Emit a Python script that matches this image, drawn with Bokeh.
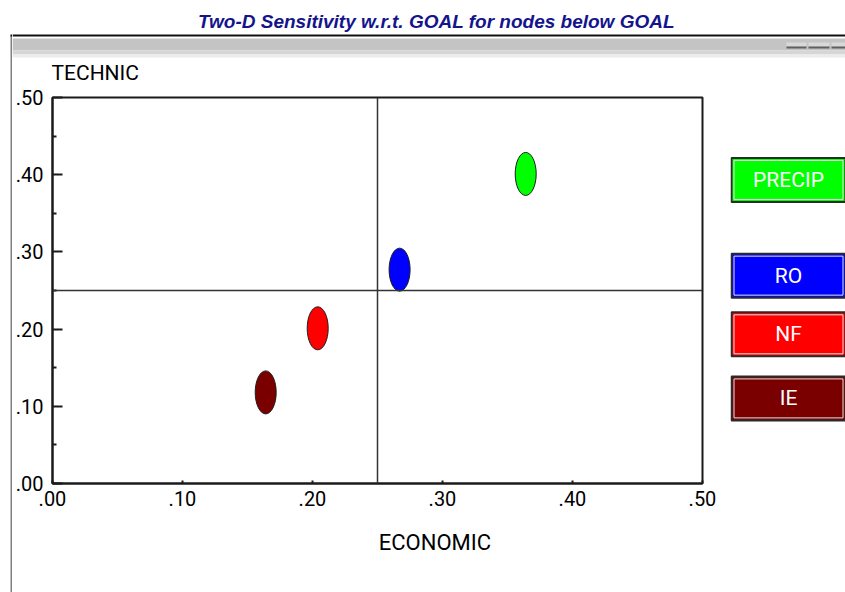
from bokeh.plotting import figure
from bokeh.layouts import column, row
from bokeh.models import (Range1d, FixedTicker, CustomJSTickFormatter, Span, ColumnDataSource)
from bokeh.core.properties import value
from bokeh.embed import file_html
from bokeh.resources import INLINE

# ---------------- data ----------------
TITLE = "Two-D Sensitivity w.r.t. GOAL for nodes below GOAL"
X_LABEL = "ECONOMIC"
Y_LABEL = "TECHNIC"
NODES = ["PRECIP", "RO", "NF", "IE"]
ECONOMIC = [0.364, 0.267, 0.204, 0.164]
TECHNIC = [0.401, 0.277, 0.201, 0.118]
COLORS = ["#00ff00", "#0000ff", "#ff0000", "#7a0000"]
SPLIT = 0.25
MAJOR_TICKS = [0.0, 0.1, 0.2, 0.3, 0.4, 0.5]
MINOR_TICKS = [0.05, 0.15, 0.25, 0.35, 0.45]
TICK_LABELS = [".00", ".10", ".20", ".30", ".40", ".50"]

# ---------------- layout (page pixels) ----------------
FONT = "Roboto"
PAGE_W, PAGE_H = 845, 592
HEAD_H = 85            # header height (title + window chrome + y-axis name)
STRIP_W = 12           # left window border strip
LEG_X = 730            # legend column start
MAIN_BOTTOM = 520      # main figure bottom edge
FL, FR, FT, FB = 51, 702, 97, 483   # plotting frame edges


def deco_fig(w, h, xr, yr, **kw):
    f = figure(width=w, height=h, output_backend="svg", toolbar_location=None,
               x_range=Range1d(*xr), y_range=Range1d(*yr),
               x_axis_type=None, y_axis_type=None,
               background_fill_color="white", border_fill_color="white", **kw)
    f.outline_line_color = None
    f.grid.visible = False
    return f


# ---------- left window border strip (full height) ----------
strip = deco_fig(STRIP_W, PAGE_H, (0, STRIP_W), (PAGE_H, 0), min_border=0)
strip.quad(left=[10], right=[STRIP_W], top=[35], bottom=[PAGE_H], fill_color="#808080", line_color=None)
strip.quad(left=[10], right=[STRIP_W], top=[34], bottom=[36], fill_color="#111111", line_color=None)

# ---------- header: title, window chrome, y-axis name ----------
head = deco_fig(PAGE_W - STRIP_W, HEAD_H, (STRIP_W, PAGE_W), (HEAD_H, 0), min_border=0)
head.text(x=[436], y=[21], text=[TITLE], text_align="center", text_baseline="alphabetic",
          text_font=value("Liberation Sans"), text_font_style="bold italic",
          text_font_size="19px", text_color="#14148c")
head.quad(left=[STRIP_W] * 3, right=[PAGE_W] * 3, top=[38, 50, 54], bottom=[50, 54, 57],
          fill_color=["#c4c4c4", "#d6d6d6", "#ececec"], line_color=None)
head.quad(left=[STRIP_W], right=[PAGE_W], top=[34], bottom=[36], fill_color="#111111", line_color=None)
head.quad(left=[786, 808, 831], right=[806, 829, PAGE_W], top=[42] * 3, bottom=[46] * 3,
          fill_color="#d8d8d8", line_color=None)
head.quad(left=[786, 808, 831], right=[806, 829, PAGE_W], top=[46] * 3, bottom=[48] * 3,
          fill_color="#606060", line_color=None)
head.text(x=[FL], y=[72], text=[Y_LABEL], text_align="left", text_baseline="alphabetic",
          text_font=value(FONT), text_font_size="21px", text_color="black")

# ---------- main scatter ----------
p = figure(width=LEG_X - STRIP_W, height=MAIN_BOTTOM - HEAD_H, output_backend="svg",
           toolbar_location=None, x_range=Range1d(0, 0.5), y_range=Range1d(0, 0.5),
           min_border_left=FL - STRIP_W, min_border_right=LEG_X - FR,
           min_border_top=FT - HEAD_H, min_border_bottom=MAIN_BOTTOM - FB,
           background_fill_color="white", border_fill_color="white")
p.grid.visible = False
p.outline_line_color = "#1a1a1a"
p.outline_line_width = 2

fmt = CustomJSTickFormatter(args=dict(tick_vals=MAJOR_TICKS, tick_text=TICK_LABELS), code="""
const i = tick_vals.findIndex(t => Math.abs(t - tick) < 1e-9);
return i < 0 ? '' : tick_text[i];
""")

for ax, tin, minor, standoff in ((p.xaxis[0], 3, 0, 7), (p.yaxis[0], 10, 4, 9)):
    ax.ticker = FixedTicker(ticks=MAJOR_TICKS, minor_ticks=MINOR_TICKS if minor else [])
    ax.formatter = fmt
    ax.axis_line_color = "#1a1a1a"
    ax.axis_line_width = 2
    ax.major_tick_in = tin
    ax.major_tick_out = 0
    ax.major_tick_line_color = "#1a1a1a"
    ax.major_tick_line_width = 2
    ax.minor_tick_in = minor
    ax.minor_tick_out = 0
    ax.minor_tick_line_color = "#1a1a1a"
    ax.minor_tick_line_width = 2
    ax.major_label_text_font = FONT
    ax.major_label_text_font_size = "20px"
    ax.major_label_text_color = "black"
    ax.major_label_standoff = standoff

p.add_layout(Span(location=SPLIT, dimension="width", line_color="#333333", line_width=1.5))
p.add_layout(Span(location=SPLIT, dimension="height", line_color="#333333", line_width=1.5))

src = ColumnDataSource(dict(x=ECONOMIC, y=TECHNIC, color=COLORS, name=NODES))
p.ellipse(x="x", y="y", width=21, height=43, width_units="screen", height_units="screen",
          fill_color="color", line_color="#1e1e1e", line_width=1, source=src)

# ---------- footer: x-axis name (frame aligned with the main frame) ----------
foot = deco_fig(LEG_X - STRIP_W, PAGE_H - MAIN_BOTTOM, (FL, FR), (PAGE_H, MAIN_BOTTOM),
                min_border_left=FL - STRIP_W, min_border_right=LEG_X - FR,
                min_border_top=0, min_border_bottom=0)
foot.text(x=[434], y=[542], text=[X_LABEL], text_align="center", text_baseline="alphabetic",
          text_font=value(FONT), text_font_size="22px", text_color="black")

# ---------- legend buttons (share the TECHNIC scale) ----------
leg = figure(width=PAGE_W - LEG_X, height=PAGE_H - HEAD_H, output_backend="svg",
             toolbar_location=None, x_range=Range1d(LEG_X, PAGE_W), y_range=p.y_range,
             x_axis_type=None, y_axis_type=None,
             min_border_left=0, min_border_right=0,
             min_border_top=FT - HEAD_H, min_border_bottom=PAGE_H - FB,
             background_fill_color="white", border_fill_color="white")
leg.outline_line_color = None
leg.grid.visible = False
ppu = (FB - FT) / 0.5
btn = ColumnDataSource(dict(y=[v - 6 / ppu for v in TECHNIC], color=COLORS, name=NODES))
bx = (LEG_X + 1 + PAGE_W) / 2
leg.rect(x=bx, y="y", width=PAGE_W - LEG_X - 1, height=44, height_units="screen",
         fill_color="color", line_color="#2a2a2a", line_width=2, source=btn)
leg.rect(x=bx, y="y", width=PAGE_W - LEG_X - 6, height=39, height_units="screen",
         fill_color=None, line_color="#e4e4e4", line_width=1, source=btn)
leg.text(x=bx, y="y", text="name", text_align="center", text_baseline="middle",
         text_font=value(FONT), text_font_size="21px", text_color="white", source=btn)

layout = row(strip, column(head, row(column(p, foot), leg)))
open("out.html", "w").write(file_html(layout, INLINE))
